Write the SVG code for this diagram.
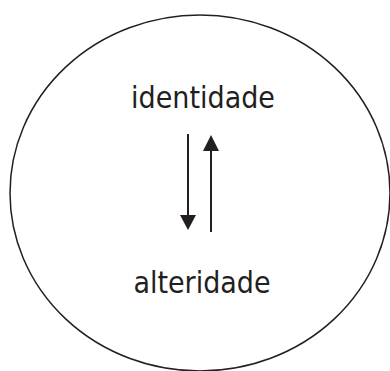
<svg xmlns="http://www.w3.org/2000/svg" width="390" height="371" viewBox="0 0 390 371">
<style>
.lbl{font-family:"DejaVu Sans Condensed","DejaVu Sans","Liberation Sans",sans-serif;font-stretch:condensed;font-size:30px;fill:#231f20;text-anchor:middle}
.ln{stroke:#231f20;stroke-width:2;fill:none}
.hd{fill:#231f20}
</style>
<rect width="390" height="371" fill="#fff"/>
<g id="circle"><ellipse cx="200" cy="193" rx="190" ry="178" fill="none" stroke="#231f20" stroke-width="1.5"/></g>
<g id="identidade"><text class="lbl" x="203" y="108">identidade</text></g>
<g id="alteridade"><text class="lbl" x="202" y="293">alteridade</text></g>
<g id="connectors">
<line class="ln" x1="188" y1="134" x2="188" y2="217"/>
<polygon class="hd" points="180,215 196,215 188,230"/>
<line class="ln" x1="211" y1="149" x2="211" y2="232"/>
<polygon class="hd" points="203,151 219,151 211,135"/>
</g>
</svg>
